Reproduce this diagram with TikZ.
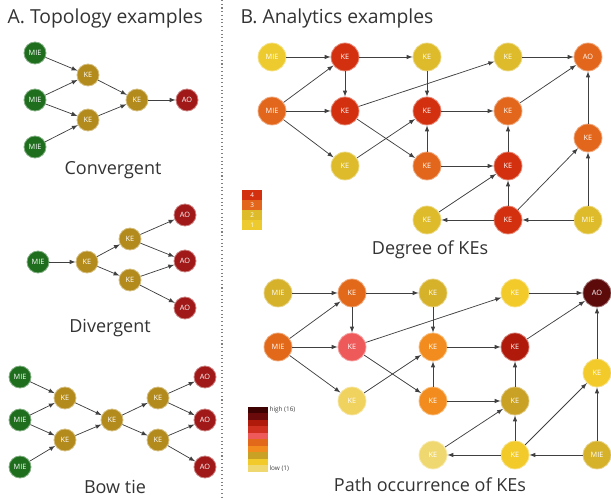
\documentclass[tikz,border=0pt]{standalone}
\usepackage{fontspec}
\setmainfont{Open Sans}
\usepackage{tikz}

\definecolor{mie}{HTML}{1E6E1E}
\definecolor{ke}{HTML}{B38B1C}
\definecolor{ao}{HTML}{A01818}
% degree scale
\definecolor{dfour}{HTML}{D3300F}
\definecolor{dthree}{HTML}{E2671C}
\definecolor{dtwo}{HTML}{DDBB2A}
\definecolor{done}{HTML}{EDCB2E}
% path occurrence scale
\definecolor{pa}{HTML}{3E0202}
\definecolor{pb}{HTML}{6A0A0A}
\definecolor{pc}{HTML}{B01A0A}
\definecolor{pd}{HTML}{D03020}
\definecolor{pe}{HTML}{EE5A5A}
\definecolor{pf}{HTML}{E2691A}
\definecolor{pg}{HTML}{F28C1E}
\definecolor{ph}{HTML}{C9A124}
\definecolor{pi}{HTML}{F2CB2A}
\definecolor{pj}{HTML}{F0D870}
\definecolor{pk}{HTML}{D6B12A}
\definecolor{pl}{HTML}{F0D25E}
\definecolor{pm}{HTML}{5C0A0A}

\begin{document}
\begin{tikzpicture}[x=0.75pt,y=-0.75pt,
	ev/.style={circle,fill=#1,draw=#1!55!white,line width=0.6pt,text=white,inner sep=0pt,font=\fontsize{5.5}{6}\selectfont},
	sm/.style={minimum size=16.5pt},
	bg/.style={minimum size=21pt},
	link/.style={-latex,draw=black!75,line width=0.55pt},
	ttl/.style={font=\fontsize{14.5}{16}\selectfont,text=black!80},
	subttl/.style={font=\fontsize{13.5}{15}\selectfont,text=black!80},
	mini/.style={font=\fontsize{4.8}{5}\selectfont}]
	\useasboundingbox (0,0) rectangle (611,498);
	\draw [black!50,dotted,line width=0.8pt] (222,0) -- (222,498);

	% A. topology
	\node [ttl,anchor=west] (ttlA) at (3,18) {A. Topology examples};

	\node [ev=mie,sm] (c1) at (35,53) {MIE};
	\node [ev=mie,sm] (c2) at (35,100) {MIE};
	\node [ev=mie,sm] (c3) at (35,147) {MIE};
	\node [ev=ke,sm] (c4) at (88,75) {KE};
	\node [ev=ke,sm] (c5) at (88,120) {KE};
	\node [ev=ke,sm] (c6) at (137,100) {KE};
	\node [ev=ao,sm] (c7) at (187,100) {AO};
	\foreach \a/\b in {c1/c4,c2/c4,c2/c5,c3/c5,c4/c6,c5/c6,c6/c7}
	\draw [link] (\a) -- (\b);
	\node [subttl] (capc) at (113,170) {Convergent};

	\node [ev=mie,sm] (d1) at (38,262) {MIE};
	\node [ev=ke,sm] (d2) at (87,262) {KE};
	\node [ev=ke,sm] (d3) at (130,239) {KE};
	\node [ev=ke,sm] (d4) at (130,280) {KE};
	\node [ev=ao,sm] (d5) at (185,215) {AO};
	\node [ev=ao,sm] (d6) at (185,261) {AO};
	\node [ev=ao,sm] (d7) at (185,308) {AO};
	\foreach \a/\b in {d1/d2,d2/d3,d2/d4,d3/d5,d3/d6,d4/d6,d4/d7}
	\draw [link] (\a) -- (\b);
	\node [subttl] (capd) at (110,328) {Divergent};

	\node [ev=mie,sm] (w1) at (20,377) {MIE};
	\node [ev=mie,sm] (w2) at (20,420) {MIE};
	\node [ev=mie,sm] (w3) at (20,467) {MIE};
	\node [ev=ke,sm] (w4) at (65,398) {KE};
	\node [ev=ke,sm] (w5) at (65,440) {KE};
	\node [ev=ke,sm] (w6) at (112,420) {KE};
	\node [ev=ke,sm] (w7) at (158,398) {KE};
	\node [ev=ke,sm] (w8) at (158,440) {KE};
	\node [ev=ao,sm] (w9) at (205,377) {AO};
	\node [ev=ao,sm] (w10) at (205,420) {AO};
	\node [ev=ao,sm] (w11) at (205,467) {AO};
	\foreach \a/\b in {w1/w4,w2/w4,w2/w5,w3/w5,w4/w6,w5/w6,w6/w7,w6/w8,w7/w9,w7/w10,w8/w10,w8/w11}
	\draw [link] (\a) -- (\b);
	\node [subttl] (capw) at (115,487) {Bow tie};

	% B. analytics
	\node [ttl,anchor=west] (ttlB) at (236,18) {B. Analytics examples};

	% degree of KEs
	\foreach \n/\t/\c/\x/\y in {11/MIE/done/272/57,12/KE/dfour/345/57,13/KE/dtwo/427/57,14/KE/dtwo/508/57,15/AO/dthree/588/57,
		21/MIE/dthree/272/111,22/KE/dfour/345/111,23/KE/dfour/427/111,24/KE/dthree/508/111,25/KE/dthree/588/138,
		32/KE/dtwo/345/166,33/KE/dthree/427/166,34/KE/dfour/508/166,
		43/KE/dtwo/427/220,44/KE/dfour/508/220,45/MIE/dtwo/588/220}
	\node [ev=\c,bg] (t\n) at (\x,\y) {\t};
	\foreach \a/\b in {11/12,12/13,13/23,14/15,21/12,21/22,21/32,12/22,22/14,22/33,32/23,23/24,33/23,33/34,24/15,34/24,44/34,44/43,43/34,44/25,45/44,45/25,25/15}
	\draw [link] (t\a) -- (t\b);
	\foreach \v/\c [count=\i] in {4/dfour,3/dthree,2/dtwo,1/done}
	\node [fill=\c,text=white,mini,minimum width=15pt,minimum height=7.5pt,inner sep=0pt,anchor=north west] (dl\i) at (242,180+10*\i) {\v};
	\node [subttl] (capt) at (430,250) {Degree of KEs};

	% path occurrence of KEs
	\foreach \n/\t/\c/\x/\y in {11/MIE/pk/278/293,12/KE/pf/352/293,13/KE/pk/433/293,14/KE/pi/515/293,15/AO/pm/597/293,
		21/MIE/pf/278/347,22/KE/pe/352/347,23/KE/pg/433/347,24/KE/pc/515/347,25/KE/pi/597/373,
		32/KE/pl/352/401,33/KE/pg/433/401,34/KE/ph/515/401,
		43/KE/pj/433/455,44/KE/pi/515/455,45/MIE/pk/597/455}
	\node [ev=\c,bg] (b\n) at (\x,\y) {\t};
	\foreach \a/\b in {11/12,12/13,13/23,14/15,21/12,21/22,21/32,12/22,22/14,22/33,32/23,23/24,33/23,33/34,24/15,34/24,44/34,44/43,43/34,44/25,45/44,45/25,25/15}
	\draw [link] (b\a) -- (b\b);
	\foreach \c [count=\i] in {pa,pb,pc,pd,pe,pf,pg,ph,pi,pj}
	\fill [\c] (248,400.5+6.5*\i) rectangle (268,407+6.5*\i);
	\node [mini,anchor=west,inner sep=1pt,text=black!75] (hi) at (268,410) {high (16)};
	\node [mini,anchor=west,inner sep=1pt,text=black!75] (lo) at (268,469) {low (1)};
	\node [subttl] (capb) at (430,485) {Path occurrence of KEs};
\end{tikzpicture}
\end{document}
